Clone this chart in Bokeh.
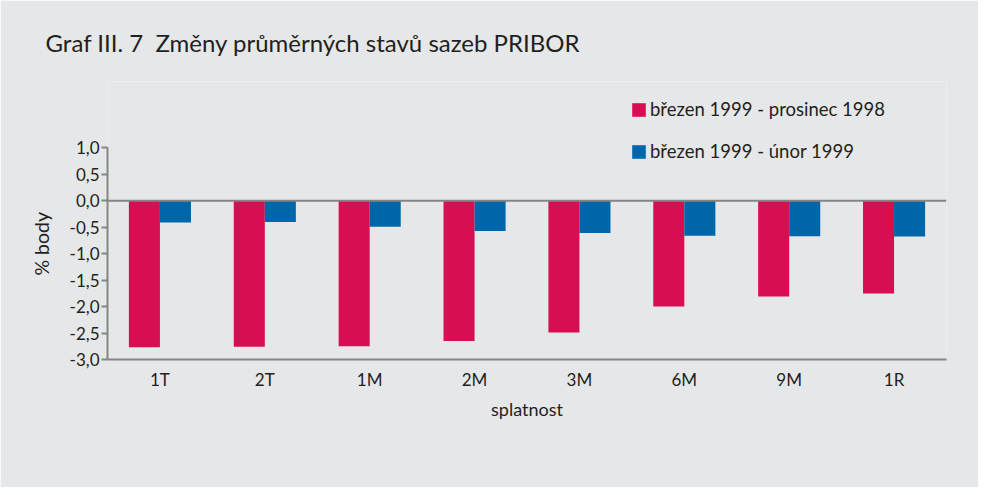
from bokeh.plotting import figure
from bokeh.models import (FactorRange, Range1d, FixedTicker, CustomJSTickFormatter,
                          Span, Legend, LegendItem, ColumnDataSource, Title)
from bokeh.transform import dodge
from bokeh.embed import file_html
from bokeh.resources import INLINE

# ---- data ----
categories = ["1T", "2T", "1M", "2M", "3M", "6M", "9M", "1R"]
dec_vals = [-2.77, -2.76, -2.75, -2.65, -2.49, -2.00, -1.81, -1.75]
feb_vals = [-0.41, -0.40, -0.49, -0.57, -0.61, -0.66, -0.67, -0.675]
series_labels = ["březen 1999 - prosinec 1998", "březen 1999 - únor 1999"]
y_ticks = [-3.0, -2.5, -2.0, -1.5, -1.0, -0.5, 0.0, 0.5, 1.0]
title_text = "Graf III. 7\u00a0 Změny průměrných stavů sazeb PRIBOR"
x_label = "splatnost"
y_label = "% body"

# ---- styles ----
BG = "#e6e7e8"
RED = "#d70f52"
BLUE = "#0066aa"
AXIS = "#858585"
TXT = "#231f20"
FONT = "Lato"

# frame geometry (px)
FRAME_TOP = 80
Y1_PX = 146.7       # pixel row of y = 1.0
PX_PER_UNIT = 53.1
y_end = 1 + (Y1_PX - FRAME_TOP) / PX_PER_UNIT

src = ColumnDataSource(dict(cat=categories, dec=dec_vals, feb=feb_vals))

p = figure(width=978, height=487,
           x_range=FactorRange(*categories), y_range=Range1d(-3, y_end),
           output_backend="svg", toolbar_location=None,
           min_border_left=107, min_border_right=32,
           min_border_top=FRAME_TOP, min_border_bottom=128,
           background_fill_color=BG, border_fill_color=BG,
           outline_line_color=None)

r1 = p.vbar(x=dodge("cat", -0.148, range=p.x_range), bottom=0, top="dec", width=0.296,
            source=src, fill_color=RED, line_color=None)
r2 = p.vbar(x=dodge("cat", 0.148, range=p.x_range), bottom=0, top="feb", width=0.296,
            source=src, fill_color=BLUE, line_color=None)

p.grid.visible = False
p.add_layout(Span(location=0, dimension="width", line_color=AXIS, line_width=2))

# title
p.title.text = title_text
p.title.align = "left"
p.title.offset = -62
p.title.standoff = 50
p.title.text_font = FONT
p.title.text_font_size = "24px"
p.title.text_font_style = "normal"
p.title.text_color = TXT

# x axis
xa = p.xaxis[0]
xa.axis_line_color = AXIS
xa.axis_line_width = 2
xa.major_tick_line_color = None
xa.minor_tick_line_color = None
xa.major_label_standoff = 3
xa.major_label_text_font = FONT
xa.major_label_text_font_size = "17px"
xa.major_label_text_color = TXT
xa.axis_label = x_label
xa.axis_label_standoff = 5
xa.axis_label_text_font = FONT
xa.axis_label_text_font_size = "18px"
xa.axis_label_text_font_style = "normal"
xa.axis_label_text_color = TXT

# y axis
ya = p.yaxis[0]
ya.bounds = (-3, 1)
ya.ticker = FixedTicker(ticks=y_ticks, minor_ticks=[])
ya.formatter = CustomJSTickFormatter(code="return tick.toFixed(1).replace('.', ',');")
ya.axis_line_color = AXIS
ya.axis_line_width = 2
ya.major_tick_line_color = AXIS
ya.major_tick_line_width = 2
ya.major_tick_out = 6
ya.major_tick_in = 0
ya.minor_tick_line_color = None
ya.major_label_standoff = 2
ya.major_label_text_font = FONT
ya.major_label_text_font_size = "17px"
ya.major_label_text_color = TXT

# y axis label as a side title, so it can sit where the reference puts it
p.add_layout(Title(text=y_label, align="left", offset=84, standoff=28,
                   text_font=FONT, text_font_size="19.5px", text_font_style="normal",
                   text_color=TXT), "left")

legend = Legend(items=[LegendItem(label=series_labels[0], renderers=[r1]),
                       LegendItem(label=series_labels[1], renderers=[r2])],
                location=(523, 197), glyph_width=17, glyph_height=17,
                label_standoff=3, spacing=20, padding=0, margin=0,
                border_line_color=None, background_fill_alpha=0,
                label_text_font=FONT, label_text_font_size="18.5px",
                label_text_color=TXT, label_height=17)
p.add_layout(legend)

open("out.html", "w").write(file_html(p, INLINE))
